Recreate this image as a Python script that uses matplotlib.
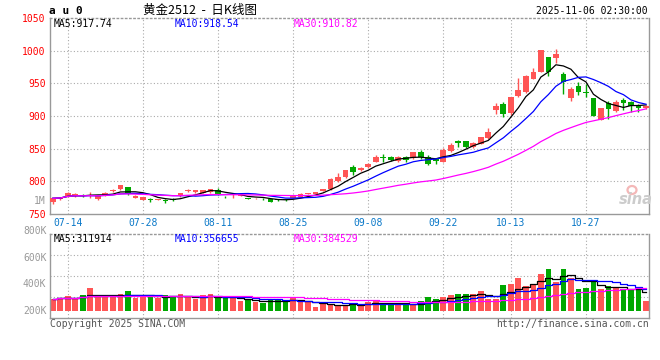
import numpy as np
import pandas as pd
import matplotlib
matplotlib.use("Agg")
import matplotlib.pyplot as plt
from matplotlib.patches import Ellipse
from matplotlib.transforms import ScaledTranslation

# trading days, 2025-07-10 .. 2025-11-06 (National Day holiday removed)
days = pd.bdate_range("2025-07-10", "2025-11-06")
days = days[~days.isin(pd.date_range("2025-10-01", "2025-10-08"))]
tick_dates = ["07-14", "07-28", "08-11", "08-25", "09-08", "09-22", "10-13", "10-27"]

open_ = [768, 773.5, 777, 777, 779.6, 778, 772.5, 779, 785, 788,
         791, 775, 772, 772.5, 771.5, 771.5, 773, 777, 785, 783,
         782.6, 783, 787, 776.5, 777, 777.5, 774.5, 774, 773.5, 772.5,
         772.5, 772.5, 774.5, 776, 780.5, 780, 785, 788, 800, 806,
         821.5, 818, 821.5, 830, 836.5, 837, 831, 837, 835, 845.4,
         838, 834, 830, 846, 862, 861, 852, 857, 866, 909,
         918, 904, 930, 936, 957, 968, 990, 989, 965, 927,
         946, 937, 927, 894, 920, 908, 925, 922, 917, 912]
close = [774, 775, 782, 780.6, 777.5, 779, 777, 782.6, 786, 794,
         780, 777.5, 775.5, 771.5, 772.5, 770.5, 771, 781.6, 786.5, 786.7,
         786.7, 788, 779, 775.5, 778, 778.5, 773.5, 774.3, 772.5, 769,
         771.5, 771.5, 778, 781, 781.5, 783, 788, 803.6, 806.6, 817,
         814.5, 820, 826.6, 838, 835.5, 833, 837, 833, 845, 837,
         826.5, 831, 848, 855.6, 859, 852, 858, 868, 876, 915,
         903, 929, 940, 961, 967, 1001, 968, 995, 952, 942,
         937, 935, 900.5, 912, 911, 922, 920, 915, 912, 916]
high = [775, 776, 783, 782, 781, 783, 778, 783.5, 788, 795,
        792, 778.5, 776, 774, 773, 772.5, 774, 782, 789, 787.5,
        787.5, 788.8, 789.3, 777, 781.7, 779, 775, 775, 774, 773,
        773.5, 773, 778.5, 781.5, 782.5, 784, 789, 804.5, 813, 818,
        825, 822, 828, 840, 842, 839.5, 839, 839.5, 845.5, 847.5,
        841, 835, 851.5, 858, 864, 862.5, 860.5, 868.5, 881, 920.4,
        921, 929.5, 957.7, 962, 973, 1001.5, 990.5, 1002, 968, 944,
        952.5, 949.5, 928, 912.5, 923, 925, 927, 923, 918.5, 917]
low = [766, 772, 776, 776, 776.5, 774, 771.5, 778, 784, 786,
       779, 774, 771, 768.5, 771, 767, 770, 776.5, 784, 782.5,
       782, 782.5, 778.5, 774, 774, 777, 773, 773.5, 771.5, 768,
       770, 769.5, 774, 775.5, 780, 779.5, 784.5, 787.5, 799.5, 805,
       810, 816, 821, 829, 830, 830.5, 830, 829, 834.5, 834.5,
       825.5, 827, 829.5, 845.5, 852, 851, 851.5, 856.5, 865.5, 903,
       899, 901.5, 929.5, 935.5, 956, 967.5, 961, 981.6, 933, 923,
       932, 929.5, 900, 893.5, 895.4, 906.6, 909.7, 906.6, 906, 911]
# volume in thousands of lots
volume = [287.5, 300, 310, 297.5, 317.5, 370, 305, 305, 305, 330,
          347.5, 297.5, 317.5, 305, 300, 317.5, 305, 325, 305, 287.5,
          317.5, 325, 300, 300, 300, 272.5, 280, 267.5, 260, 280,
          280, 272.5, 302.5, 265, 265, 230, 255, 250, 242.5, 242.5,
          255, 242.5, 267.5, 280, 255, 242.5, 250, 255, 245, 272.5,
          305, 292.5, 302.5, 317.5, 325, 325, 325, 350, 290, 290,
          392.5, 400, 447.5, 385, 400, 475, 512.5, 417.5, 512.5, 447.5,
          362.5, 372.5, 417.5, 362.5, 385, 375, 360, 355, 355, 272.5]

price_ma_text = ["MA5:917.74", "MA10:918.54", "MA30:910.82"]
vol_ma_text = ["MA5:311914", "MA10:356655", "MA30:384529"]

RED = "#ff5555"
GREEN = "#00a800"
GRID = "#aaaaaa"
FRAME = "#999999"
MONO = "DejaVu Sans Mono"
plt.rcParams["font.family"] = ["DejaVu Sans Mono", "Noto Sans CJK SC"]

n = len(close)
x = np.arange(n)
o = np.array(open_)
c = np.array(close)
up = c >= o
colors = np.where(up, RED, GREEN)
labels = days.strftime("%m-%d")
tick_pos = [list(labels).index(d) for d in tick_dates]

fig = plt.figure(figsize=(6.6, 3.6), dpi=100)
W, H = 660, 360
ax = fig.add_axes([50 / W, 1 - 214 / H, 599 / W, 196 / H])
axv = fig.add_axes([50 / W, 1 - 318.3 / H, 599 / W, 84 / H])

for a in (ax, axv):
    a.set_xlim(-0.37, n - 0.6)
    for s in a.spines.values():
        s.set_color(FRAME)
        s.set_linewidth(1)
    a.spines["top"].set_linestyle((0, (1, 2)))
    a.tick_params(length=0)
    for p in tick_pos:
        a.axvline(p, color=GRID, lw=0.8, ls=(0, (1, 2)), zorder=0)

# --- price panel
ax.set_ylim(750, 1050)
for lvl in range(800, 1050, 50):
    ax.axhline(lvl, color=GRID, lw=0.8, ls=(0, (1, 2)), zorder=0)

# sina watermark
ax.add_patch(Ellipse((632 / W, 1 - 190 / H), 9 / W, 8 / H, transform=fig.transFigure,
                     facecolor="none", edgecolor="#f4b8b8", lw=1.6, zorder=1))
fig.text(636 / W, 1 - 200 / H, "sina", ha="center", va="center", color="#cccccc",
         fontsize=10.5, style="italic", weight="bold", family="DejaVu Sans")

body_lo = np.minimum(o, c)
body_h = np.maximum(np.abs(c - o), 0.9)
ax.vlines(x, low, high, colors=colors, lw=1, zorder=2)
ax.bar(x, body_h, bottom=body_lo, width=0.76, color=colors, lw=0, zorder=3)

cs = pd.Series(c)
for win, col in [(5, "black"), (10, "blue"), (30, "magenta")]:
    ax.plot(x, cs.rolling(win, min_periods=1).mean(), color=col, lw=0.9, zorder=4)

ax.set_yticks(range(750, 1051, 50))
ax.set_yticklabels([str(v) for v in range(750, 1051, 50)], color="red", fontsize=7, family=MONO)
for lab in ax.get_yticklabels():
    lab.set_transform(lab.get_transform() + ScaledTranslation(0, 2 / 72, fig.dpi_scale_trans))
ax.tick_params(axis="y", pad=3)
ax.set_xticks(tick_pos)
ax.set_xticklabels(tick_dates, color="#0a78c8", fontsize=7, family=MONO)
ax.tick_params(axis="x", pad=3)

for txt, col, xp in zip(price_ma_text, ["black", "blue", "magenta"], [54, 175, 294]):
    fig.text(xp / W, 1 - 24 / H, txt, color=col, fontsize=7, family=MONO, va="center")

# --- volume panel
vol_base = 200
axv.set_ylim(145, 775)
for q in np.linspace(145, 775, 5)[1:-1]:
    axv.axhline(q, color=GRID, lw=0.8, ls=(0, (1, 2)), zorder=0)
vol = np.array(volume)
vcol = np.where(up, RED, GREEN)
axv.bar(x, vol - vol_base, bottom=vol_base, width=0.76, color=vcol, lw=0, zorder=2)
vs = pd.Series(vol)
for win, col in [(5, "black"), (10, "blue"), (30, "magenta")]:
    axv.plot(x, vs.rolling(win, min_periods=1).mean(), color=col, lw=0.9,
             drawstyle="steps-mid", zorder=3)
axv.set_xticks(tick_pos)
axv.set_xticklabels([])
axv.set_yticks([])
for v in [200, 400, 600, 800]:
    axv.text(-0.006, v, f"{v}K", transform=axv.get_yaxis_transform(), ha="right", va="center",
             color="#999999", fontsize=7, family=MONO)
fig.text(46 / W, 1 - 201 / H, "1M", ha="right", va="center", color="#999999", fontsize=7, family=MONO)

for txt, col, xp in zip(vol_ma_text, ["black", "blue", "magenta"], [54, 175, 294]):
    fig.text(xp / W, 1 - 238.5 / H, txt, color=col, fontsize=7, family=MONO, va="center")

# --- header / footer
fig.text(49 / W, 1 - 11.5 / H, "a u 0", fontsize=8, weight="bold", family=MONO, va="center")
fig.text(200 / W, 1 - 10 / H, "黄金2512  -  日K线图", fontsize=9, ha="center", va="center",
         family=["Noto Sans CJK SC", "DejaVu Sans"])
fig.text(648 / W, 1 - 11.5 / H, "2025-11-06 02:30:00", fontsize=7, ha="right", va="center", family=MONO)
fig.text(50 / W, 1 - 324 / H, "Copyright 2025 SINA.COM", fontsize=7, va="center", color="#555555", family=MONO)
fig.text(649 / W, 1 - 324 / H, "http://finance.sina.com.cn", fontsize=7, ha="right", va="center",
         color="#555555", family=MONO)

fig.savefig("out.png", dpi=100, facecolor="white")
